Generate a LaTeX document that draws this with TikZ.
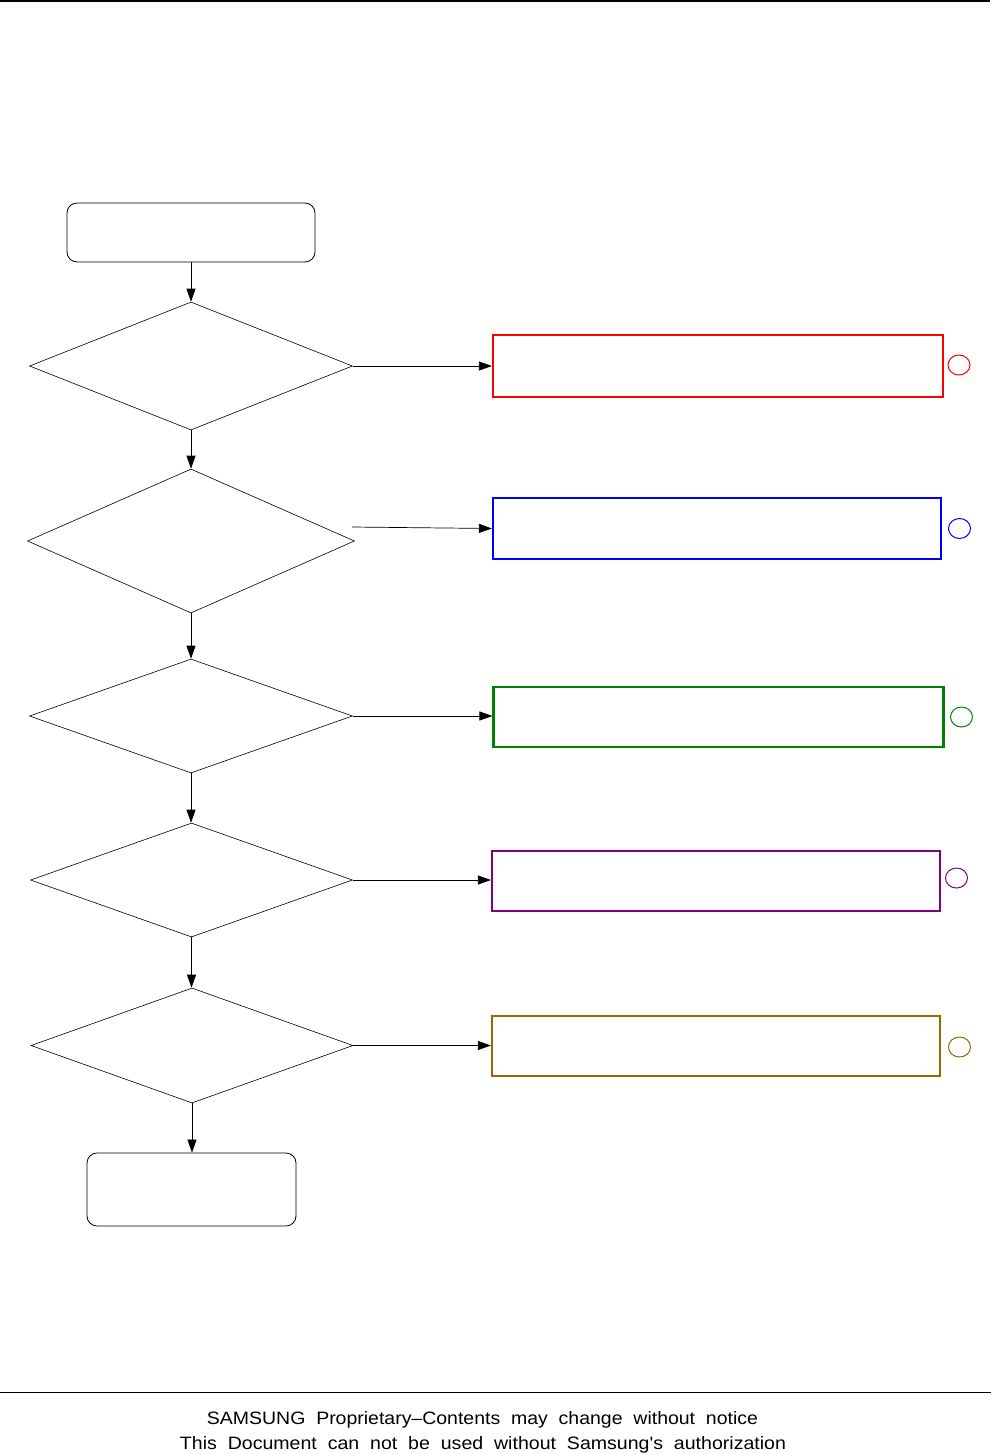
\documentclass[tikz,border=0pt]{standalone}
\usepackage{fontspec}
\setmainfont{Liberation Sans}
\usetikzlibrary{shapes.geometric,arrows.meta}
\definecolor{cred}{RGB}{255,0,0}
\definecolor{cblue}{RGB}{0,0,255}
\definecolor{cgreen}{RGB}{0,128,0}
\definecolor{cpurple}{RGB}{128,0,128}
\definecolor{cbrown}{RGB}{153,102,0}
\begin{document}
\begin{tikzpicture}[x=1pt,y=-1pt,
  term/.style={draw=black,line width=0.8pt,rounded corners=10pt,inner sep=0pt},
  dec/.style={draw=black,line width=0.6pt,diamond,inner sep=0pt},
  act/.style={line width=2.2pt,inner sep=0pt},
  ring/.style={ellipse,line width=1pt,inner sep=0pt,minimum width=22pt,minimum height=20pt},
  flow/.style={-{Triangle[length=13pt,width=9pt]},line width=0.7pt,black}]
\useasboundingbox (0,0) rectangle (993,1454);
\draw[line width=1.6pt] (0,1) -- (990,1);
\draw[line width=1pt] (0,1392.5) -- (991,1392.5);
% nodes
\node[term,minimum width=248pt,minimum height=59pt] (start) at (191,232.5) {};
\node[dec,minimum width=323pt,minimum height=128pt] (d1) at (191,366) {};
\node[dec,minimum width=327pt,minimum height=144pt] (d2) at (191,541) {};
\node[dec,minimum width=323pt,minimum height=114pt] (d3) at (191,716) {};
\node[dec,minimum width=322pt,minimum height=114pt] (d4) at (191.5,880) {};
\node[dec,minimum width=322pt,minimum height=115pt] (d5) at (192,1045.5) {};
\node[term,minimum width=209pt,minimum height=73pt] (end) at (191.5,1189.5) {};
\node[act,draw=cred,minimum width=450pt,minimum height=62pt] (b1) at (718,366) {};
\node[act,draw=cblue,minimum width=448pt,minimum height=61pt] (b2) at (717,528.5) {};
\node[act,draw=cgreen,minimum width=450pt,minimum height=60pt] (b3) at (718.5,717) {};
\node[act,draw=cpurple,minimum width=448pt,minimum height=60pt] (b4) at (716,881) {};
\node[act,draw=cbrown,minimum width=448pt,minimum height=60pt] (b5) at (716,1046) {};
\node[ring,draw=cred] (r1) at (959,365) {};
\node[ring,draw=cblue] (r2) at (959.5,528.5) {};
\node[ring,draw=cgreen] (r3) at (961.5,717) {};
\node[ring,draw=cpurple] (r4) at (956.5,878) {};
\node[ring,draw=cbrown] (r5) at (959.5,1047) {};
\coordinate (s2) at (352,527);
% connectors
\draw[flow] (start.south) -- (start.south |- d1.north);
\draw[flow] (d1.south) -- (d1.south |- d2.north);
\draw[flow] (d2.south) -- (d2.south |- d3.north);
\draw[flow] (d3.south) -- (d3.south |- d4.north);
\draw[flow] (d4.south) -- (d4.south |- d5.north);
\draw[flow] (d5.south) -- (d5.south |- end.north);
\draw[flow] (d1.east) -- (d1.east -| b1.west);
\draw[flow] (s2) -- (b2.west);
\draw[flow] (d3.east) -- (d3.east -| b3.west);
\draw[flow] (d4.east) -- (d4.east -| b4.west);
\draw[flow] (d5.east) -- (d5.east -| b5.west);
% footer
\node[anchor=base,inner sep=0pt] (f1) at (482.5,1424) {\resizebox{551pt}{13pt}{SAMSUNG\ \ Proprietary–Contents\ \ may\ \ change\ \ without\ \ notice}};
\node[anchor=base,inner sep=0pt] (f2) at (483,1449) {\resizebox{606pt}{13pt}{This\ \ Document\ \ can\ \ not\ \ be\ \ used\ \ without\ \ Samsung\textquotesingle s\ \ authorization}};
\end{tikzpicture}
\end{document}
